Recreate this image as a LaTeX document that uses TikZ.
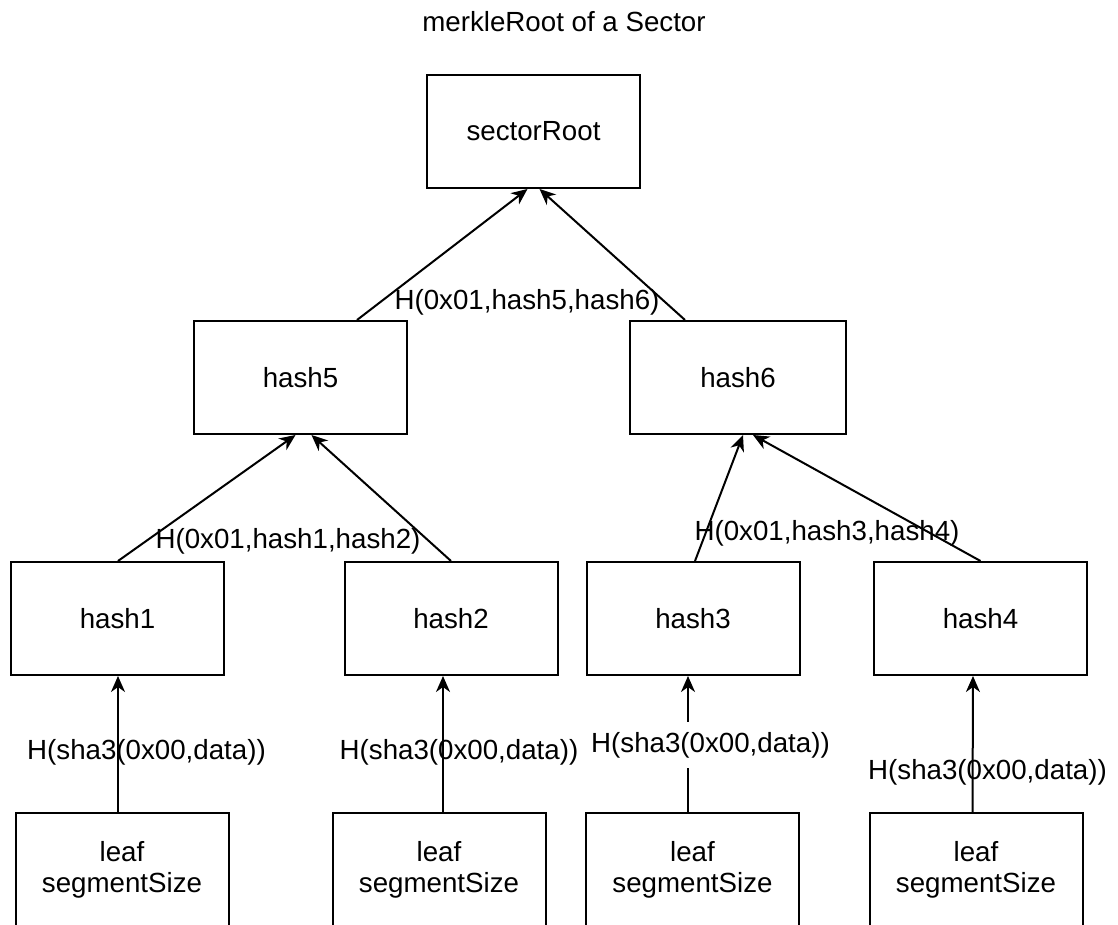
\documentclass[tikz,border=0pt]{standalone}
\usepackage{fontspec}
\setmainfont{Liberation Sans}
\usetikzlibrary{arrows.meta,calc}
\begin{document}
\begin{tikzpicture}[x=0.5pt,y=-0.5pt,
  every node/.style={font=\fontsize{13.85}{15.5}\selectfont, inner sep=0pt},
  box/.style={draw, line width=1pt, minimum width=106.5pt, minimum height=56.5pt, align=center},
  arr/.style={line width=1pt, -{Stealth[length=8pt,width=7pt,inset=2.5pt]}},
  lbl/.style={inner xsep=1pt, inner ysep=3pt}]
\useasboundingbox (0,0) rectangle (1118,925);
\clip (0,0) rectangle (1118,925);

% title
\node (title) at (564,22) {merkleRoot of a Sector};

% tree nodes
\node[box] (root)  at (533.5,131.5) {sectorRoot};
\node[box] (h5)    at (300.5,377.5) {hash5};
\node[box, minimum width=108pt] (h6) at (738,377.5) {hash6};
\node[box] (h1)    at (117.5,618.5) {hash1};
\node[box] (h2)    at (451,618.5)   {hash2};
\node[box] (h3)    at (693,618.5)   {hash3};
\node[box] (h4)    at (980.5,618.5) {hash4};
\node[box] (l1)    at (122,869.5)   {leaf\\segmentSize};
\node[box] (l2)    at (439,869.5)   {leaf\\segmentSize};
\node[box] (l3)    at (692.5,869.5) {leaf\\segmentSize};
\node[box] (l4)    at (976,869.5)   {leaf\\segmentSize};

% leaves to first hashes
\draw[arr] ($(l1.north)+(-4,0)$) -- ($(h1.south)+(0.5,0)$);
\draw[arr] ($(l2.north)+(4,0)$)  -- ($(h2.south)+(-8,0)$);
\draw[arr] ($(l3.north)+(-4.5,0)$) -- ($(h3.south)+(-5,0)$);
\draw[arr] ($(l4.north)+(-3.5,0)$) -- ($(h4.south)+(-7.5,0)$);

% first hashes to second level
\draw[arr] ($(h1.north)+(0.5,0)$) -- ($(h5.south)+(-5,0)$);
\draw[arr] (h2.north) -- ($(h5.south)+(11,0)$);
\draw[arr] ($(h3.north)+(2,0)$) -- ($(h6.south)+(5,0)$);
\draw[arr] (h4.north) -- ($(h6.south)+(15,0)$);

% second level to root
\draw[arr] ($(h5.north)+(56.5,0)$) -- ($(root.south)+(-6,0)$);
\draw[arr] ($(h6.north)+(-53,0)$) -- ($(root.south)+(6,0)$);

% edge labels
\node[lbl] (e1) at (146.5,752) {H(sha3(0x00,data))};
\node[lbl] (e2) at (459,752) {H(sha3(0x00,data))};
\node[lbl, fill=white, inner ysep=5pt] (e3) at (710.5,745) {H(sha3(0x00,data))};
\node[lbl] (e4) at (987.5,772) {H(sha3(0x00,data))};
\node[lbl] (e5) at (288,541) {H(0x01,hash1,hash2)};
\node[lbl] (e6) at (827,533) {H(0x01,hash3,hash4)};
\node[lbl] (e7) at (527,302) {H(0x01,hash5,hash6)};
\end{tikzpicture}
\end{document}
